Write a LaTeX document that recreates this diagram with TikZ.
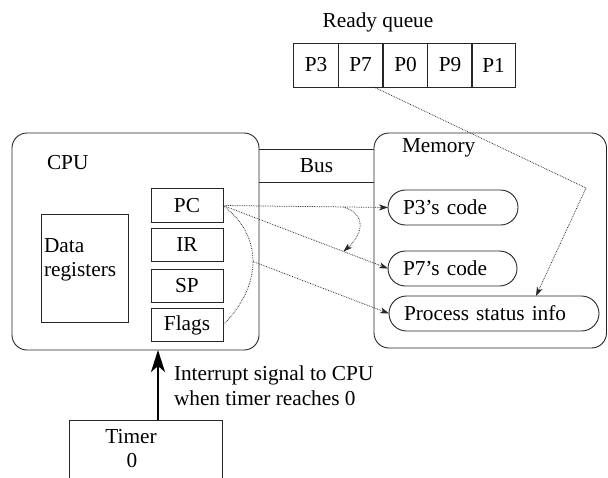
\documentclass[tikz,border=0pt]{standalone}
\usepackage{fontspec}
\setmainfont{Liberation Serif}
\usetikzlibrary{arrows.meta,calc}
\begin{document}
\begin{tikzpicture}[x=1pt,y=-1pt,
  every node/.style={font=\fontsize{21.3}{24}\selectfont, inner sep=0pt, outer sep=0pt},
  box/.style={draw=black!85, line width=0.9pt},
  reg/.style={box, minimum width=72, minimum height=33.5},
  cell/.style={box, minimum width=44.2, minimum height=44},
  region/.style={box, rounded corners=15},
  codebox/.style={box, rounded corners=17.5, minimum height=35, align=left, inner xsep=15},
  link/.style={draw=black!85, line width=0.75pt, densely dotted,
               -{Stealth[length=9pt,width=6pt,inset=2.5pt]}},
  trace/.style={draw=black!85, line width=0.75pt, densely dotted},
  signal/.style={line width=2.6pt, -{Stealth[length=22pt,width=14pt,inset=6pt]}}
]
\useasboundingbox (0,0) rectangle (608,477);

% ready queue
\node[anchor=base] (rqlbl) at (378,27) {Ready queue};
\node[cell] (q3) at (316,65) {P3};
\node[cell] (q7) at (360.5,65) {P7};
\node[cell] (q0) at (405.5,65) {P0};
\node[cell] (q9) at (450,65) {P9};
\node[cell] (q1) at (493.5,65) {P1};

% CPU and its registers
\node[region, minimum width=247, minimum height=217] (cpu) at (135.5,241.5) {};
\node[anchor=base west] (cpulbl) at (47,169) {CPU};
\node[box, minimum width=87, minimum height=108] (data) at (84.5,268) {};
\node[anchor=base west] (datal1) at (44,252) {Data};
\node[anchor=base west] (datal2) at (44,276) {registers};
\node[reg] (pc) at (187,205.5) {PC};
\node[reg] (ir) at (187,245) {IR};
\node[reg] (sp) at (187,286) {SP};
\node[reg] (flags) at (187,325) {Flags};

% bus
\node[minimum width=115, minimum height=33] (bus) at (316.5,165.5) {Bus};
\draw[draw=black!85, line width=0.9pt] (bus.north west) -- (bus.north east)
                                        (bus.south west) -- (bus.south east);

% memory
\node[region, minimum width=232.5, minimum height=215] (mem) at (490.25,240.5) {};
\node[anchor=base west] (memlbl) at (402,152) {Memory};
\node[codebox, text width=100, anchor=west] (p3) at (388,207.5) {P3's code};
\node[codebox, text width=99, anchor=west] (p7) at (388,268.5) {P7's code};
\node[codebox, text width=180, anchor=west] (psi) at (389,313.5) {Process status info};

% timer and interrupt signal
\node[box, minimum width=153, minimum height=80, anchor=north] (timer) at (145.5,420) {};
\node[anchor=base] (timerlbl) at (131,443) {Timer};
\node[anchor=base] (timerval) at (132,467) {0};
\coordinate (sigfoot) at ($(timer.north)+(12.5,0)$);
\draw[signal] (sigfoot) -- (sigfoot |- cpu.south);
\node[anchor=base west] (irq1) at (174,380) {Interrupt signal to CPU};
\node[anchor=base west] (irq2) at (174,405) {when timer reaches 0};

% context switch traffic
\draw[link] (pc.east) -- coordinate[pos=0.73] (hop1) (p3.west);
\draw[link] (pc.east) -- coordinate[pos=0.73] (hop2) (p7.west);
\draw[trace] (pc.east) .. controls +(40,30) and +(40,-40) .. coordinate[pos=0.5] (save) (flags.east);
\draw[link] (save) -- (psi.west);
\draw[link] (hop1) .. controls +(25,8) and +(18,-16) .. (hop2);
\coordinate (qout) at ($(q7.south)!0.6!(q7.south east)$);
\coordinate (qbend) at (586,188);
\coordinate (qin) at ($(psi.north west)!0.7!(psi.north east)$);
\draw[link] (qout) -- (qbend) -- (qin);
\end{tikzpicture}
\end{document}
